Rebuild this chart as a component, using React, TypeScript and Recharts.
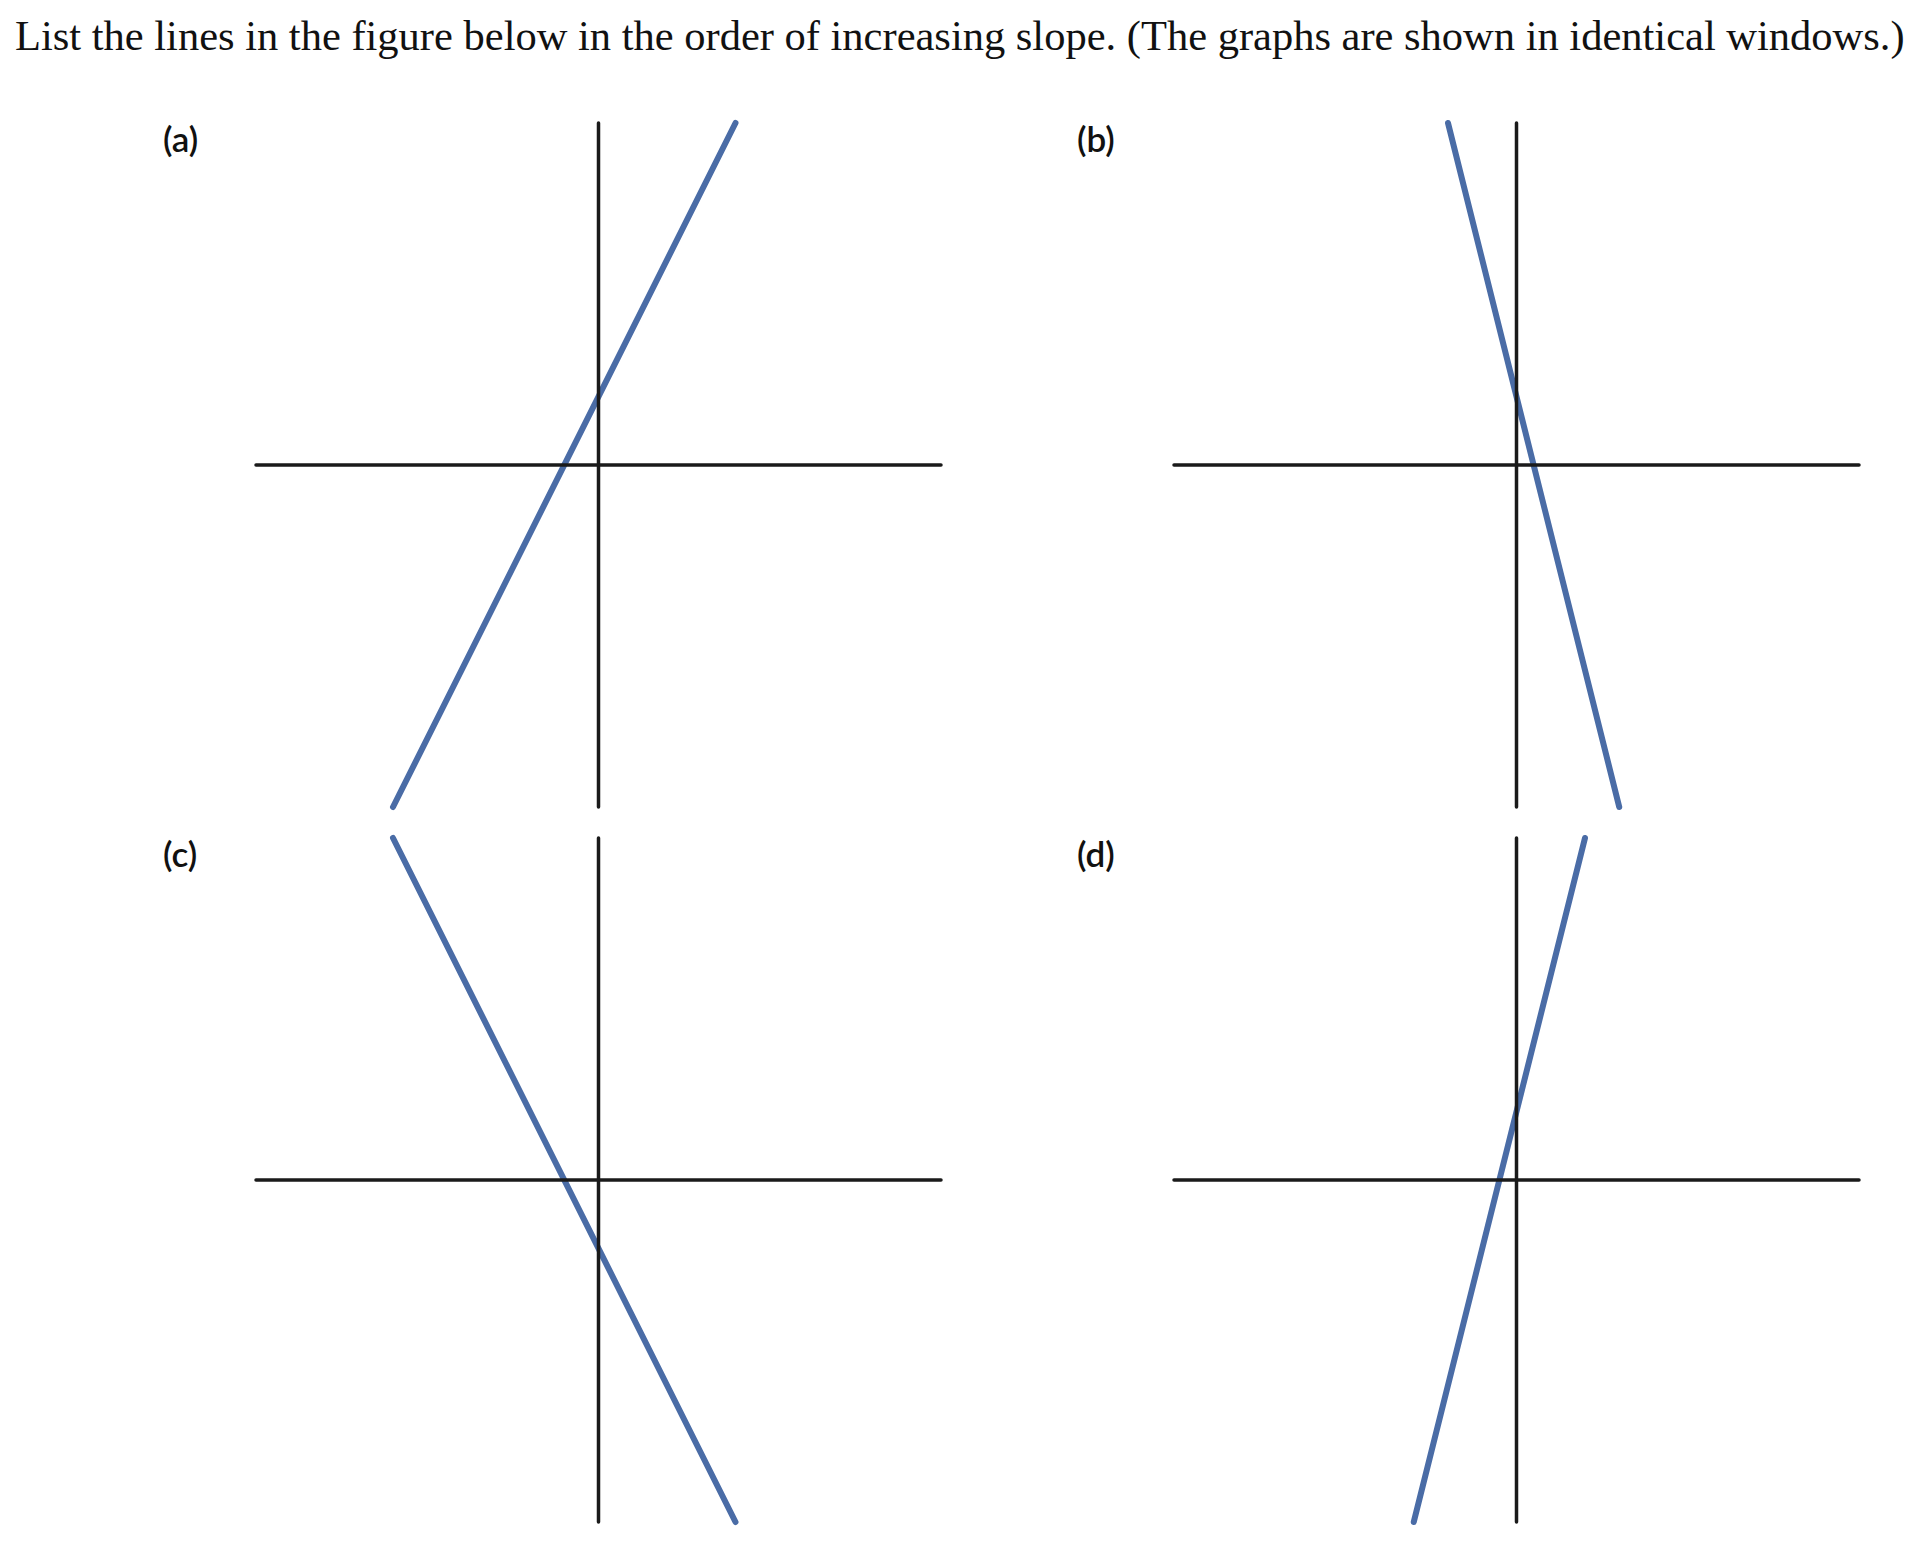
import { LineChart, Line, XAxis, YAxis, ReferenceLine } from 'recharts';

const title =
  'List the lines in the figure below in the order of increasing slope. (The graphs are shown in identical windows.)';

// identical viewing window for every panel
const windowMin = -10;
const windowMax = 10;

const panelLabels = ['(a)', '(b)', '(c)', '(d)'];

// end points of each line, read where it leaves the window
const lineA = [
  { x: -6, y: -10 },
  { x: 4, y: 10 },
];
const lineB = [
  { x: -2, y: 10 },
  { x: 3, y: -10 },
];
const lineC = [
  { x: -6, y: 10 },
  { x: 4, y: -10 },
];
const lineD = [
  { x: -3, y: -10 },
  { x: 2, y: 10 },
];

const panelLines = [lineA, lineB, lineC, lineD];

const BLUE = '#4a6ca6';
const INK = '#1a1a1a';

function Panel({ data }: { data: { x: number; y: number }[] }) {
  return (
    <LineChart width={695} height={694} margin={{ top: 5, right: 5, bottom: 5, left: 5 }}>
      <XAxis type="number" dataKey="x" domain={[windowMin, windowMax]} hide />
      <YAxis type="number" dataKey="y" domain={[windowMin, windowMax]} hide />
      <Line
        data={data}
        dataKey="y"
        stroke={BLUE}
        strokeWidth={6}
        strokeLinecap="round"
        dot={false}
        activeDot={false}
        isAnimationActive={false}
      />
      <ReferenceLine x={0} stroke={INK} strokeWidth={3.5} strokeLinecap="round" />
      <ReferenceLine y={0} stroke={INK} strokeWidth={3.5} strokeLinecap="round" />
    </LineChart>
  );
}

export default function App() {
  const spots = [
    { left: 251, top: 118 },
    { left: 1169, top: 118 },
    { left: 251, top: 833 },
    { left: 1169, top: 833 },
  ];
  const labelSpots = [
    { left: 163, top: 117 },
    { left: 1077, top: 117 },
    { left: 163, top: 832 },
    { left: 1077, top: 832 },
  ];

  return (
    <div style={{ position: 'absolute', left: 0, top: 0, width: 1932, height: 1560, background: '#fff' }}>
      <div
        style={{
          position: 'absolute',
          left: 15,
          top: 11,
          fontFamily: '"Liberation Serif", serif',
          fontSize: 42.5,
          color: '#111',
          whiteSpace: 'nowrap',
        }}
      >
        {title}
      </div>
      {panelLines.map((d, i) => (
        <div key={i} style={{ position: 'absolute', ...spots[i] }}>
          <Panel data={d} />
        </div>
      ))}
      {panelLabels.map((t, i) => (
        <div
          key={t}
          style={{
            position: 'absolute',
            ...labelSpots[i],
            fontFamily: 'Lato, sans-serif',
            fontSize: 35,
            fontWeight: 600,
            color: '#111',
          }}
        >
          {t}
        </div>
      ))}
    </div>
  );
}
